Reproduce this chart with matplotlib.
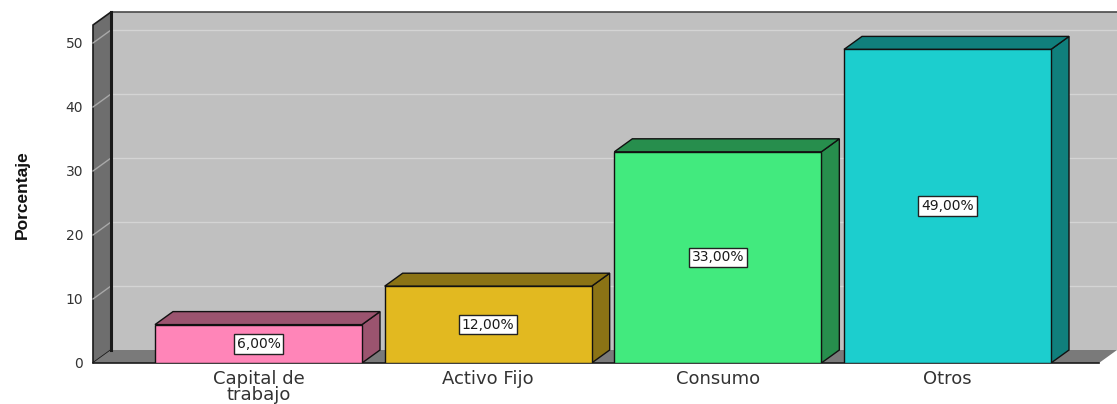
import matplotlib
matplotlib.use("Agg")
import matplotlib.pyplot as plt
from matplotlib.patches import Polygon, Rectangle

# Data
categories = ["Capital de\ntrabajo", "Activo Fijo", "Consumo", "Otros"]
percentages = [6.0, 12.0, 33.0, 49.0]
front_colors = ["#ff85b8", "#e2b920", "#42ea7e", "#1ccece"]
shade_colors = ["#9b546f", "#8b7315", "#278e4d", "#107f7c"]
y_ticks = [0, 10, 20, 30, 40, 50]

W, H, DPI = 1117, 404, 100
fig = plt.figure(figsize=(W / DPI, H / DPI), dpi=DPI)
fig.patch.set_facecolor("white")

# front plane of the plot box, in pixels
left_px, right_px, top_px, bottom_px = 93, 1099, 25, 363
ax = fig.add_axes([left_px / W, 1 - bottom_px / H,
                   (right_px - left_px) / W, (bottom_px - top_px) / H])

px_per_unit = 6.4
ymax = (bottom_px - top_px) / px_per_unit
spacing_px = 229.67
centre0_px = 258.5
xmin = (left_px - centre0_px) / spacing_px
xmax = (right_px - centre0_px) / spacing_px
ax.set_xlim(xmin, xmax)
ax.set_ylim(0, ymax)
ax.set_facecolor("none")
for s in ax.spines.values():
    s.set_visible(False)

# depth of the pseudo-3D extrusion, converted to data units
depth_x_px, depth_y_px = 18, 13
ddx = depth_x_px / spacing_px
ddy = depth_y_px / px_per_unit

wall_edge = "#1a1a1a"

# back wall
ax.add_patch(Rectangle((xmin + ddx, ddy), (xmax - xmin) + 2, ymax,
                       facecolor="#c0c0c0", edgecolor="none", zorder=0,
                       clip_on=False))
ax.plot([xmin + ddx, xmax + 2], [ymax + ddy, ymax + ddy], color="#4a4a4a",
        lw=1.2, zorder=0.5, clip_on=False)
for v in y_ticks[1:]:
    ax.plot([xmin + ddx, xmax + 2], [v + ddy, v + ddy], color="#d4d4d4",
            lw=1.0, zorder=0.6, clip_on=False)

# left side wall
ax.add_patch(Polygon([(xmin, 0), (xmin, ymax), (xmin + ddx, ymax + ddy),
                      (xmin + ddx, ddy)], closed=True,
                     facecolor="#6e6e6e", edgecolor=wall_edge, lw=1.2,
                     zorder=1, clip_on=False))
for v in y_ticks[1:]:
    ax.plot([xmin, xmin + ddx], [v, v + ddy], color="#a8a8a8", lw=1.0,
            zorder=1.1, clip_on=False)
ax.plot([xmin + ddx, xmin + ddx], [ddy, ymax + ddy], color=wall_edge,
        lw=2.2, zorder=1.2, clip_on=False)

# floor
ax.add_patch(Polygon([(xmin, 0), (xmax, 0), (xmax + ddx, ddy),
                      (xmin + ddx, ddy)], closed=True,
                     facecolor="#7a7a7a", edgecolor="none", zorder=1,
                     clip_on=False))
ax.plot([xmin, xmax], [0, 0], color=wall_edge, lw=1.2, zorder=1.3,
        clip_on=False)

# bars
x_pos = list(range(len(categories)))
bar_w = 207 / spacing_px
for i, (x, v) in enumerate(zip(x_pos, percentages)):
    l, r = x - bar_w / 2, x + bar_w / 2
    ax.add_patch(Polygon([(r, 0), (r + ddx, ddy), (r + ddx, v + ddy), (r, v)],
                         closed=True, facecolor=shade_colors[i],
                         edgecolor="#111111", lw=1.0, zorder=2))
    ax.add_patch(Polygon([(l, v), (r, v), (r + ddx, v + ddy), (l + ddx, v + ddy)],
                         closed=True, facecolor=shade_colors[i],
                         edgecolor="#111111", lw=1.0, zorder=2))
ax.bar(x_pos, percentages, width=bar_w, color=front_colors,
       edgecolor="#111111", linewidth=1.0, zorder=3)

for x, v in zip(x_pos, percentages):
    ax.text(x, v / 2, f"{v:.2f}%".replace(".", ","), ha="center", va="center",
            fontsize=10, color="#1a1a1a", zorder=4,
            bbox=dict(boxstyle="square,pad=0.2", facecolor="white",
                      edgecolor="#222222", lw=1.0))

# axes text
ax.set_yticks(y_ticks)
ax.set_yticklabels([str(t) for t in y_ticks], fontsize=10, color="#333333")
ax.set_xticks(x_pos)
ax.set_xticklabels(categories, fontsize=13, color="#333333",
                   linespacing=0.88)
ax.tick_params(axis="y", length=0, pad=7)
ax.tick_params(axis="x", length=0, pad=5)

fig.text(22 / W, 1 - 195 / H, "Porcentaje", rotation=90, ha="center",
         va="center", fontsize=12.5, fontweight="bold", color="#111111",
         family="Liberation Sans")

fig.savefig("out.png", dpi=DPI)
